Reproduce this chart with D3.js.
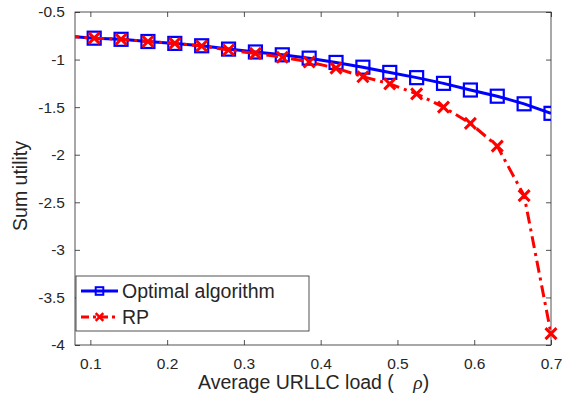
<!DOCTYPE html>
<html>
<head>
<meta charset="utf-8">
<script src="https://cdn.jsdelivr.net/npm/d3@7"></script>
<style>
  body { margin: 0; background: #fff; }
  svg text { font-family: "Liberation Sans", Arial, sans-serif; fill: #262626; }
</style>
</head>
<body>
<svg id="chart" width="563" height="407"></svg>
<script>
// data
let loads = [0.07, 0.105, 0.14, 0.175, 0.21, 0.245, 0.28, 0.315, 0.35, 0.385, 0.42, 0.455, 0.49, 0.525, 0.56, 0.595, 0.63, 0.665, 0.7];
let optimal = [-0.755, -0.775, -0.787, -0.81, -0.83, -0.855, -0.89, -0.92, -0.95, -0.985, -1.03, -1.08, -1.135, -1.19, -1.25, -1.32, -1.385, -1.465, -1.565];
let rp = [-0.755, -0.775, -0.787, -0.81, -0.83, -0.857, -0.9, -0.935, -0.975, -1.025, -1.09, -1.18, -1.255, -1.36, -1.5, -1.67, -1.91, -2.43, -3.88];
let xTicks = [0.1, 0.2, 0.3, 0.4, 0.5, 0.6, 0.7];
let yTicks = [-0.5, -1, -1.5, -2, -2.5, -3, -3.5, -4];
let seriesNames = ["Optimal algorithm", "RP"];

let margin = ({top: 12, right: 12, bottom: 62, left: 75});
let widthSvg = 563, heightSvg = 407;
let w = widthSvg - margin.left - margin.right,
    h = heightSvg - margin.top - margin.bottom;

const svg = d3.select("#chart");
const g = svg.append("g").attr("transform", `translate(${margin.left},${margin.top})`);

let x = d3.scaleLinear().domain([0.08, 0.7]).range([0, w]);
let y = d3.scaleLinear().domain([-4, -0.5]).range([h, 0]);
const axisColor = "#262626";
const fmt = d => String(d);

svg.append("defs").append("clipPath").attr("id", "clip")
    .append("rect").attr("width", w).attr("height", h);

// axes, MATLAB box style with inward ticks
function styleAxis(sel){
    sel.select(".domain").remove();
    sel.selectAll("line").attr("stroke", axisColor).attr("stroke-width", 0.8);
    sel.selectAll("text").style("font-size", "15.5px").attr("fill", axisColor);
}
g.append("g").attr("transform", `translate(0,${h})`)
    .call(d3.axisBottom(x).tickValues(xTicks).tickSize(-5).tickPadding(13).tickFormat(fmt))
    .call(styleAxis);
g.append("g")
    .call(d3.axisTop(x).tickValues(xTicks).tickSize(-5).tickFormat(""))
    .call(styleAxis);
g.append("g")
    .call(d3.axisLeft(y).tickValues(yTicks).tickSize(-5).tickPadding(10).tickFormat(fmt))
    .call(styleAxis);
g.append("g").attr("transform", `translate(${w},0)`)
    .call(d3.axisRight(y).tickValues(yTicks).tickSize(-5).tickFormat(""))
    .call(styleAxis);
g.append("rect").attr("width", w).attr("height", h)
    .attr("fill", "none").attr("stroke", axisColor).attr("stroke-width", 0.8);

let line = d3.line().x(d => x(d[0])).y(d => y(d[1]));
let optData = loads.map((d, i) => [d, optimal[i]]);
let rpData = loads.map((d, i) => [d, rp[i]]);

const plot = g.append("g").attr("clip-path", "url(#clip)");

function squareMarker(sel, s = 6.5, sw = 2.2){
    sel.append("rect").attr("x", -s).attr("y", -s).attr("width", 2 * s).attr("height", 2 * s)
        .attr("fill", "none").attr("stroke", "#0000ff").attr("stroke-width", sw);
}
function crossMarker(sel, s = 5.5, sw = 3){
    sel.append("path").attr("d", `M${-s},${-s}L${s},${s}M${-s},${s}L${s},${-s}`)
        .attr("stroke", "#ff0000").attr("stroke-width", sw).attr("fill", "none");
}

// optimal
plot.append("path").datum(optData).attr("d", line)
    .attr("fill", "none").attr("stroke", "#0000ff").attr("stroke-width", 3);
plot.selectAll(".sq").data(optData).join("g").attr("class", "sq")
    .attr("transform", d => `translate(${x(d[0])},${y(d[1])})`)
    .call(squareMarker);

// RP
plot.append("path").datum(rpData).attr("d", line)
    .attr("fill", "none").attr("stroke", "#ff0000").attr("stroke-width", 3)
    .attr("stroke-dasharray", "12,5,3,5");
const markersG = g.append("g");
markersG.selectAll(".cx").data(rpData.filter(d => d[0] >= 0.08)).join("g").attr("class", "cx")
    .attr("transform", d => `translate(${x(d[0])},${y(d[1])})`)
    .call(crossMarker);

// legend
const lg = g.append("g").attr("transform", `translate(1,${276 - margin.top})`);
lg.append("rect").attr("width", 233).attr("height", 55)
    .attr("fill", "#fff").attr("stroke", axisColor).attr("stroke-width", 0.8);
let legendRows = [
    {name: seriesNames[0], color: "#0000ff", dash: null, marker: s => squareMarker(s, 3.8, 2)},
    {name: seriesNames[1], color: "#ff0000", dash: "8,4,3,4", marker: s => crossMarker(s, 3.8, 2.5)}
];
legendRows.forEach((r, i) => {
    let yy = 15 + i * 26;
    lg.append("line").attr("x1", 5).attr("x2", 42).attr("y1", yy).attr("y2", yy)
        .attr("stroke", r.color).attr("stroke-width", 3)
        .attr("stroke-dasharray", r.dash);
    lg.append("g").attr("transform", `translate(23.5,${yy})`).call(r.marker);
    lg.append("text").attr("x", 46).attr("y", yy + 7).style("font-size", "19.5px").text(r.name);
});

// labels
svg.append("text").attr("x", 198).attr("y", 389)
    .style("font-size", "19.5px")
    .html('Average URLLC load ( <tspan dx="14" style="font-family: \'Liberation Serif\', serif; font-style: italic;">ρ</tspan>)');
svg.append("text").attr("transform", "translate(27,186) rotate(-90)")
    .attr("text-anchor", "middle").style("font-size", "19.5px").text("Sum utility");
</script>
</body>
</html>
